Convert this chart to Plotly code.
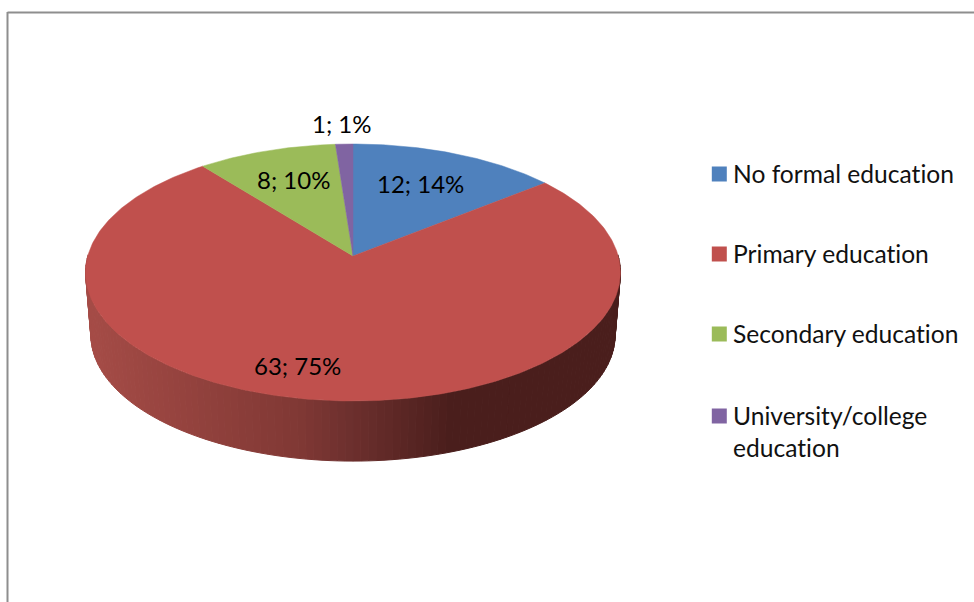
import numpy as np
import plotly.graph_objects as go

# ---- data ----
categories = ["No formal education", "Primary education", "Secondary education", "University/college education"]
legend_text = ["No formal education", "Primary education", "Secondary education", "University/college<br>education"]
values = [12, 63, 8, 1]
percents = ["14%", "75%", "10%", "1%"]

# ---- style ----
colors = ["#4F81BD", "#C0504D", "#9BBB59", "#8064A2"]
FONT = "Lato"
W, H = 974, 602
CX, CY = 353.0, 256.0      # apex of the pie on the page
DIST, GY, GX = 7.79, 984.5, 2066.0   # perspective of the tilted disc
BOTTOM_SCALE, BOTTOM_DROP = 0.98, 63.0
label_pos = [(420.5, 183), (297, 365), (293, 179), (341.5, 123)]
legend_y = [174, 254, 334, 416]
legend_sw_x, legend_tx_x = 719.3, 731.2


def project(theta, scale=1.0, drop=0.0):
    den = DIST + np.cos(theta)
    return CX + scale * GX * np.sin(theta) / den, CY + drop - scale * GY * np.cos(theta) / den


fig = go.Figure()
total = sum(values)
edges = np.cumsum([0] + values) / total * 2 * np.pi

# side wall of the slice that faces the viewer
i_front = int(np.argmax(values))
lo = max(edges[i_front], np.pi / 2 - 0.01)
hi = min(edges[i_front + 1], 3 * np.pi / 2 + 0.01)
steps = np.linspace(lo, hi, 121)
for a, b in zip(steps[:-1], steps[1:]):
    xt, yt = project(np.array([a, b]))
    xb, yb = project(np.array([b, a]), BOTTOM_SCALE, BOTTOM_DROP)
    mid = (xt.mean() + xb.mean()) / 2
    r = np.interp(mid, [85, 300, 353, 450, 621], [166, 128, 108, 74, 74])
    g = np.interp(mid, [85, 300, 353, 450, 621], [76, 56, 47, 30, 30])
    bl = np.interp(mid, [85, 300, 353, 450, 621], [71, 52, 45, 28, 28])
    col = f"rgb({r:.0f},{g:.0f},{bl:.0f})"
    fig.add_trace(go.Scatter(
        x=np.r_[xt, xb, xt[0]], y=np.r_[yt, yb, yt[0]], mode="lines", fill="toself",
        fillcolor=col, line=dict(color=col, width=1), hoverinfo="skip", showlegend=False))

# top faces
for i, cat in enumerate(categories):
    th = np.linspace(edges[i], edges[i + 1], max(int(values[i] * 6), 12))
    xa, ya = project(th)
    fig.add_trace(go.Scatter(
        x=np.r_[CX, xa, CX], y=np.r_[CY, ya, CY], mode="lines", fill="toself",
        fillcolor=colors[i], line=dict(color=colors[i], width=0.5),
        name=cat, hoverinfo="name", showlegend=False))

# legend swatches
for i, cat in enumerate(categories):
    fig.add_trace(go.Scatter(
        x=[legend_sw_x], y=[legend_y[i]], mode="markers", name=cat,
        marker=dict(symbol="square", size=15, color=colors[i]),
        hoverinfo="name", showlegend=False))

annotations = []
for i in range(len(categories)):
    annotations.append(dict(
        x=label_pos[i][0], y=label_pos[i][1], text=f"{values[i]}; {percents[i]}",
        showarrow=False, xanchor="center", yanchor="middle",
        font=dict(family=FONT, size=24, color="#000000")))
    annotations.append(dict(
        x=legend_tx_x, y=legend_y[i] - 17, text=legend_text[i], showarrow=False,
        xanchor="left", yanchor="top", align="left",
        font=dict(family=FONT, size=24.6, color="#111111")))

frame = dict(color="#8e8e8e", width=2)
fig.update_layout(
    width=W, height=H, margin=dict(l=0, r=0, t=0, b=0),
    paper_bgcolor="white", plot_bgcolor="white", showlegend=False,
    xaxis=dict(range=[0, W], visible=False, fixedrange=True),
    yaxis=dict(range=[H, 0], visible=False, fixedrange=True),
    annotations=annotations,
    shapes=[
        dict(type="line", x0=7.5, x1=W, y0=12.5, y1=12.5, line=frame, layer="below"),
        dict(type="line", x0=7.5, x1=7.5, y0=12, y1=H, line=frame, layer="below"),
    ],
)

page_css = ("body{margin:0;overflow:hidden}"
            "text,tspan{font-variant-ligatures:none!important;"
            "font-feature-settings:'liga' 0,'clig' 0!important}")
fig.write_html("out.html", config={"displayModeBar": False},
               post_script="var s=document.createElement('style');s.textContent=\"" + page_css + "\";document.head.appendChild(s);")
